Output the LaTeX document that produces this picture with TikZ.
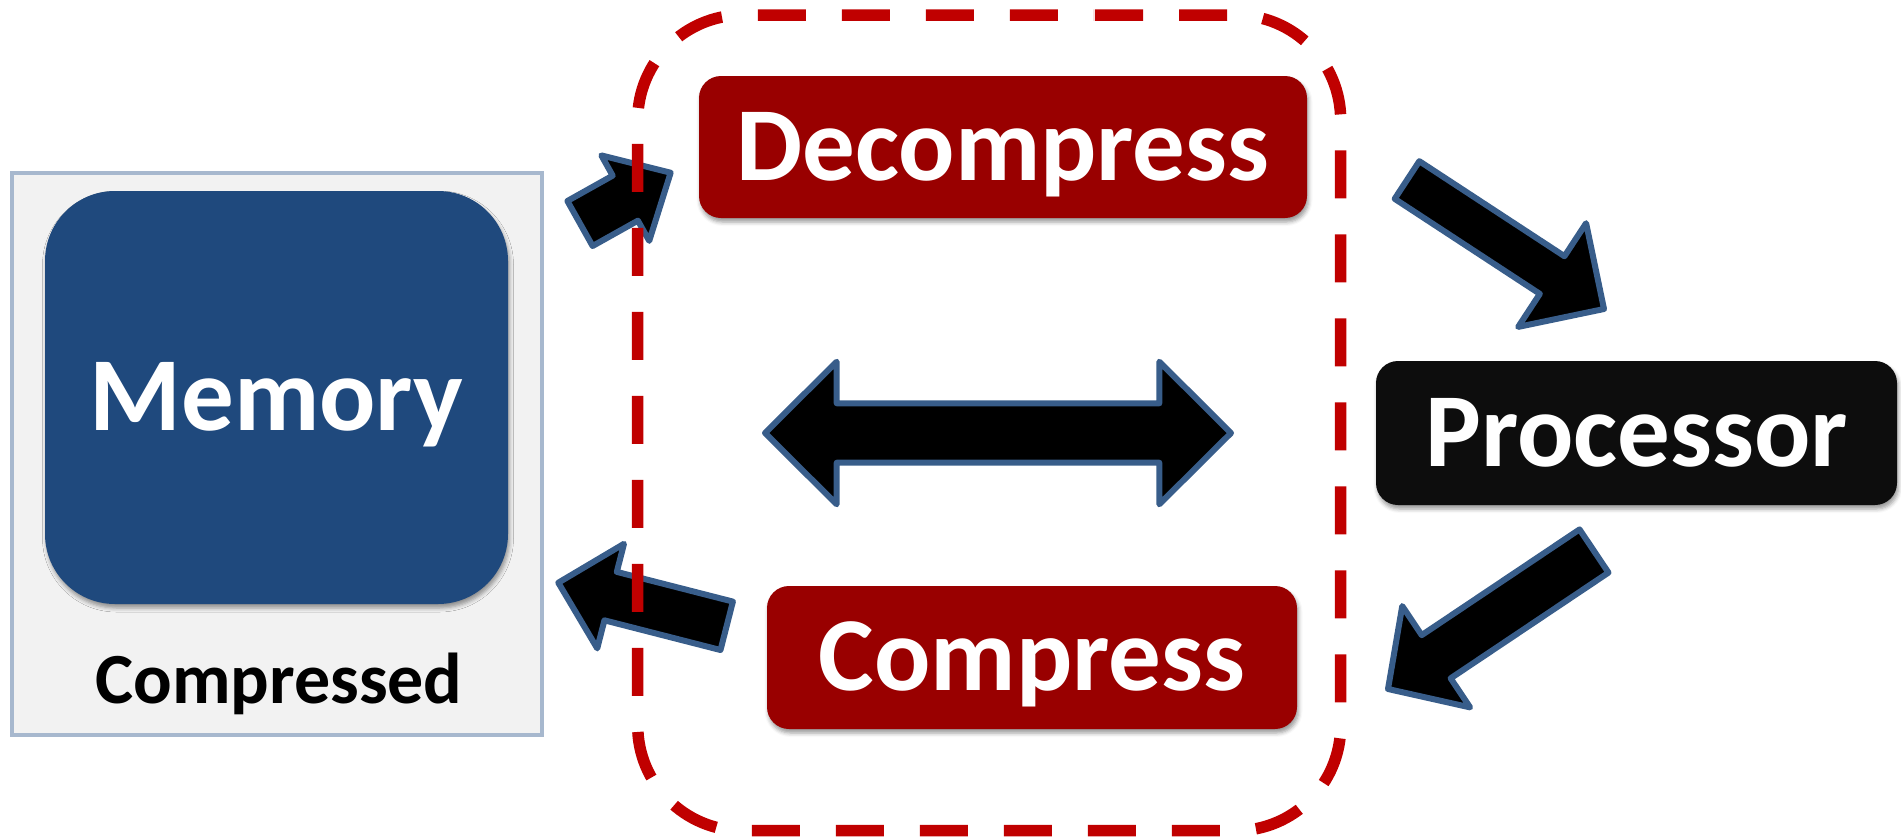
\documentclass[tikz,border=0pt]{standalone}
\usepackage{fontspec}
\setmainfont{Carlito}
\usetikzlibrary{calc,shadows.blur}
\definecolor{memblue}{HTML}{1F497D}
\definecolor{boxred}{HTML}{990000}
\definecolor{procblack}{HTML}{0D0D0D}
\definecolor{lightfill}{HTML}{F2F2F2}
\definecolor{lightedge}{HTML}{A7B8CE}
\definecolor{arrowedge}{HTML}{385D8A}
\definecolor{dashred}{HTML}{C00000}
\tikzset{
  softshadow/.style={blur shadow={shadow xshift=1.5pt, shadow yshift=-4pt, shadow blur radius=4pt, shadow opacity=40}},
  bigtext/.style={text=white, font=\fontsize{105}{110}\selectfont\bfseries, text height=66pt, text depth=0pt, inner sep=0pt},
  labelbox/.style={bigtext, rounded corners=22pt, softshadow},
  blockarrowstyle/.style={fill=black, draw=arrowedge, line width=6pt, line join=round},
  dashbox/.style={draw=dashred, line width=11.5pt, dash pattern=on 48pt off 36pt, dash phase=83pt, rounded corners=105pt},
}
% tail, tip, shaft half-width, head half-width, head length
\newcommand{\blockarrow}[5]{%
  \draw[blockarrowstyle] let \p1=(#1), \p2=(#2),
    \n1={atan2(\y2-\y1,\x2-\x1)}, \n2={veclen(\x2-\x1,\y2-\y1)} in
    [shift={(\p1)}, rotate=\n1]
    (0,-#3) -- ({\n2-#5},-#3) -- ({\n2-#5},-#4) -- (\n2,0) -- ({\n2-#5},#4) -- ({\n2-#5},#3) -- (0,#3) -- cycle;}
\begin{document}
\begin{tikzpicture}[x=1pt,y=-1pt]
\useasboundingbox (0,0) rectangle (1901,839);
% memory panel
\node[draw=lightedge, line width=4pt, fill=lightfill, minimum width=530pt, minimum height=562pt, inner sep=0pt] (membg) at (277,454) {};
\node[bigtext, fill=memblue, rounded corners=70pt, minimum width=463pt, minimum height=413pt, softshadow] (memory) at (276.5,397.5) {Memory};
\node[font=\fontsize{72}{74}\selectfont\bfseries, anchor=base, inner sep=0pt] (cmplabel) at (279,703) {Compressed};
% boxes
\node[labelbox, fill=boxred, minimum width=608pt, minimum height=142pt] (decomp) at (1003,147) {Decompress};
\node[labelbox, fill=boxred, minimum width=530pt, minimum height=143pt] (comp) at (1032,657.5) {Compress};
\node[labelbox, fill=procblack, minimum width=521pt, minimum height=144pt] (proc) at (1636.5,433) {Processor};
% arrow end points
\coordinate (a1s) at (580,223.5);  \coordinate (a1e) at (670.7,172.7);
\coordinate (a2s) at (1407,180);   \coordinate (a2e) at (1604,309);
\coordinate (a3s) at (1594,551);   \coordinate (a3e) at (1388,689);
\coordinate (a4s) at (726.7,625.8); \coordinate (a4e) at (558.3,582.7);
\blockarrow{a1s}{a1e}{25.8}{49}{52}
\blockarrow{a2s}{a2e}{22.5}{62}{62}
\blockarrow{a3s}{a3e}{26}{61}{58}
\blockarrow{a4s}{a4e}{25}{54}{54}
% double arrow
\coordinate (dl) at (765,433); \coordinate (dr) at (1231,433);
\draw[blockarrowstyle] (dl) -- (836.7,361.7) -- (836.7,403.3) -- (1159.3,403.3) -- (1159.3,361.7) -- (dr)
  -- (1159.3,504.3) -- (1159.3,462.7) -- (836.7,462.7) -- (836.7,504.3) -- cycle;
% dashed region
\draw[dashbox] (989,15) -- (1340.7,15) -- (1340.7,830.7) -- (637.7,830.7) -- (637.7,15) -- cycle;
\end{tikzpicture}
\end{document}
